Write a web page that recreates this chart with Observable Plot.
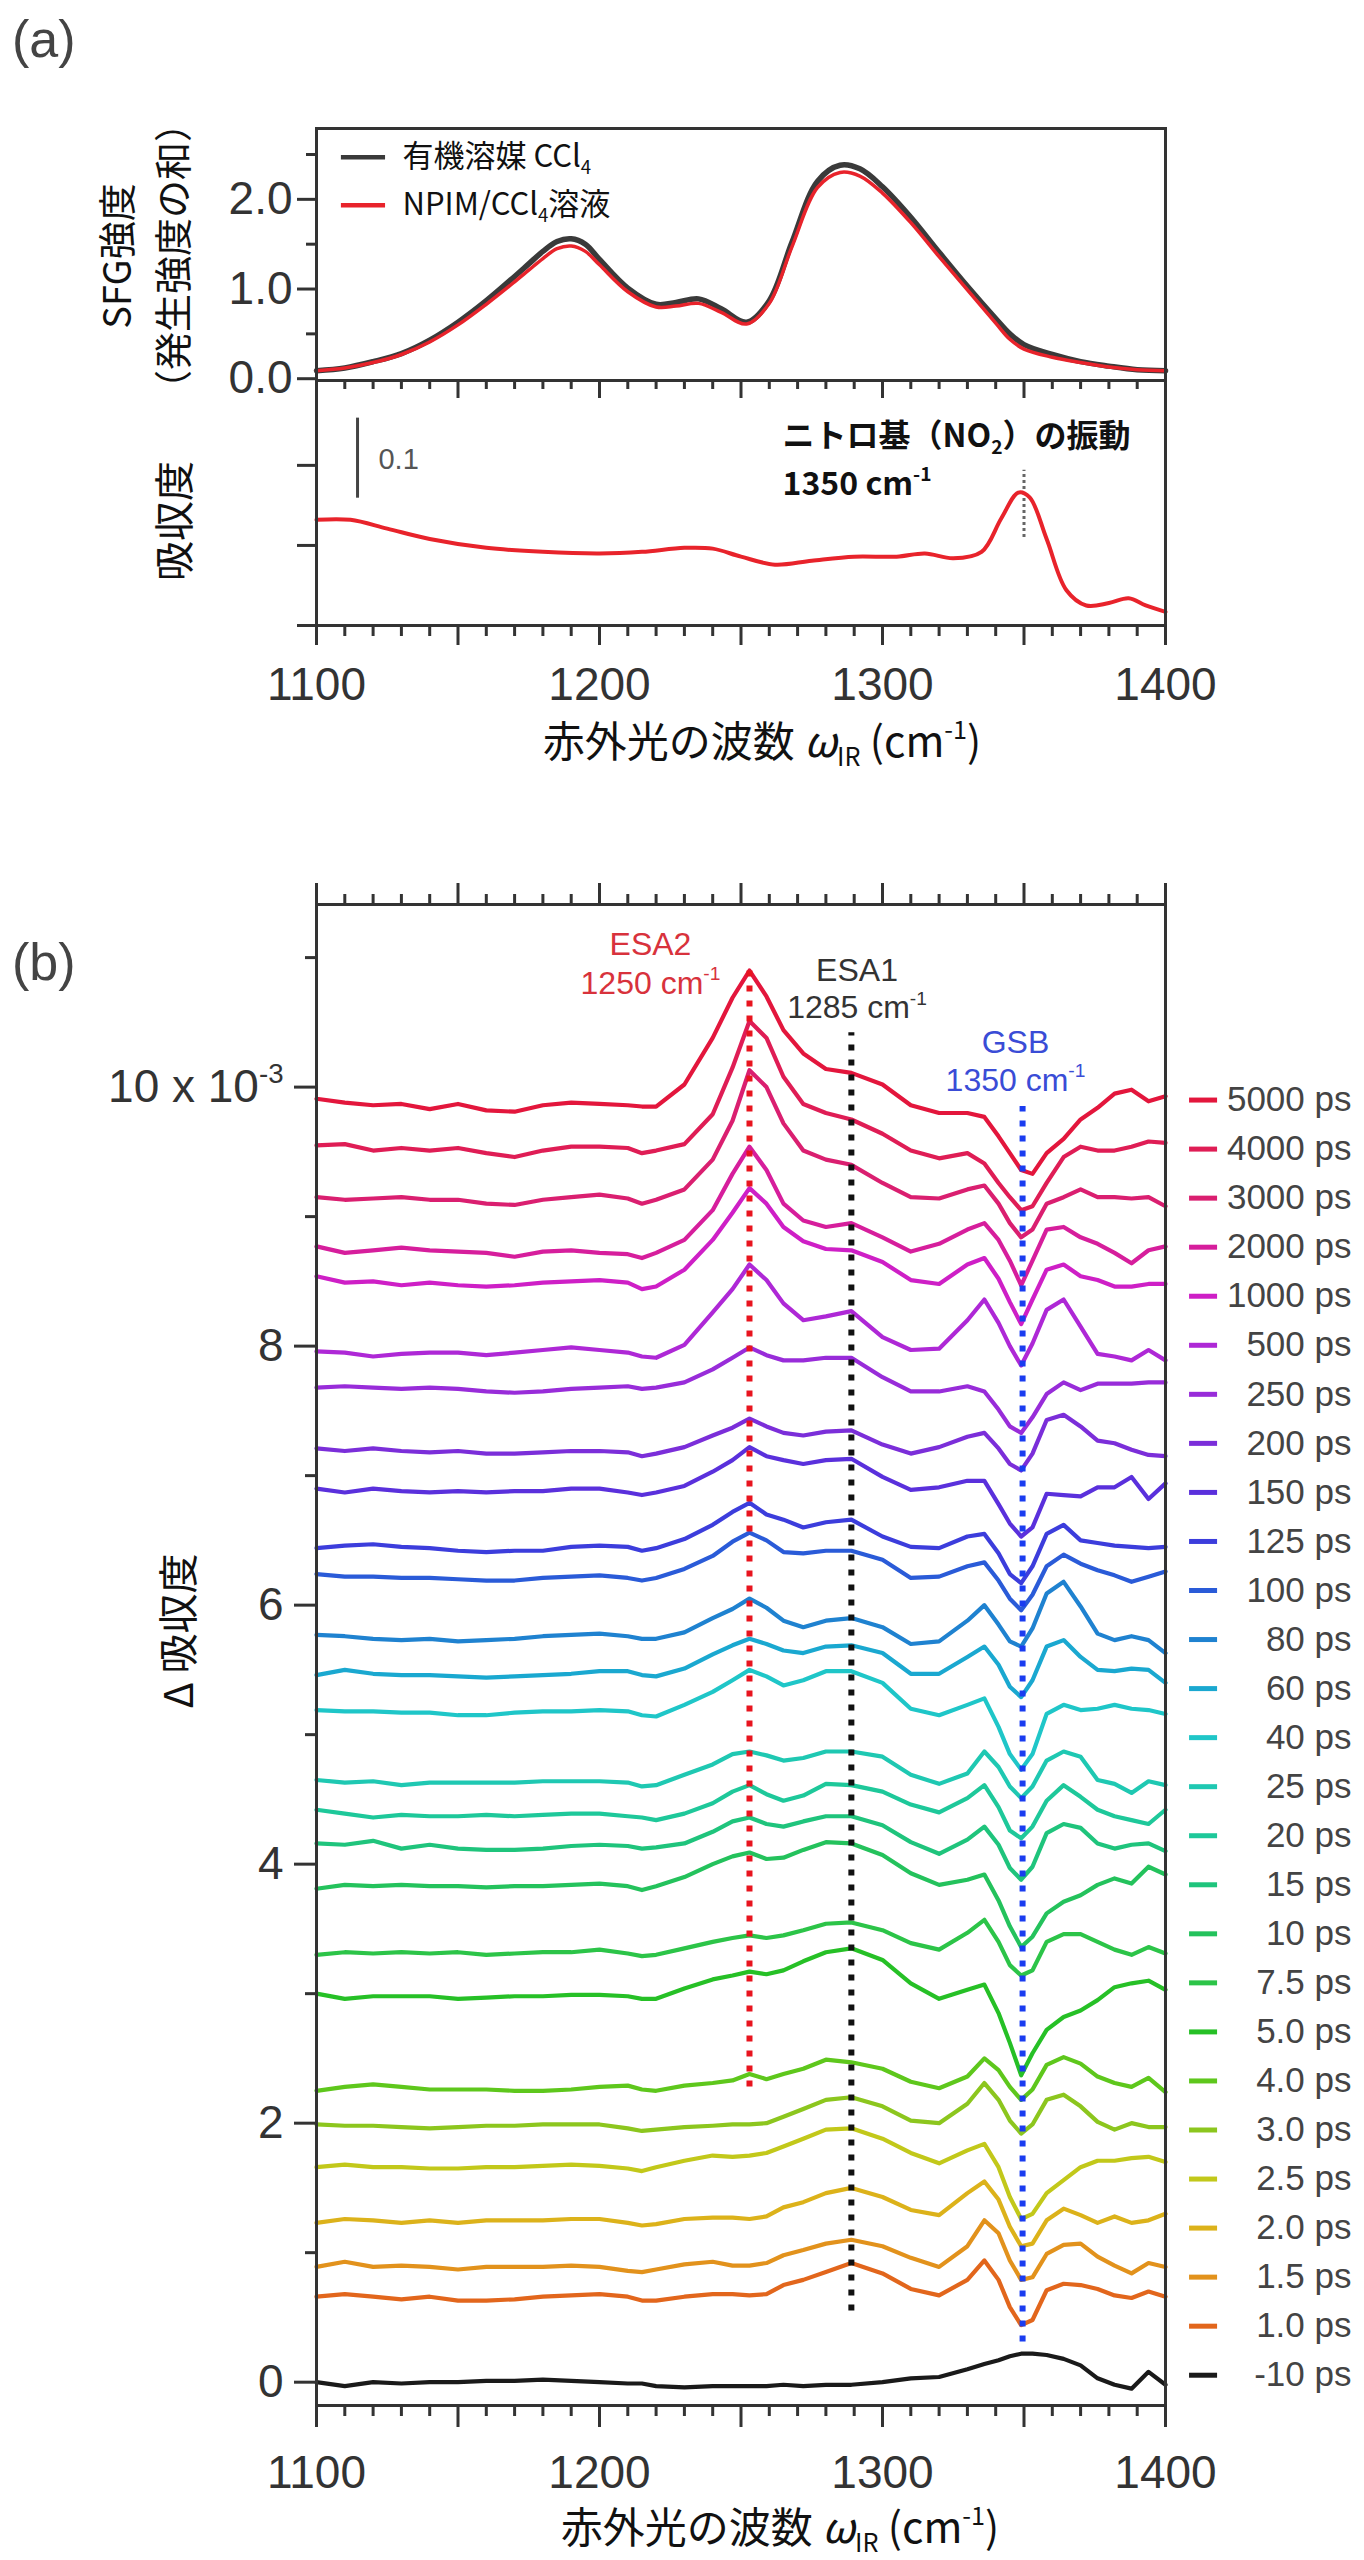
<!DOCTYPE html>
<html>
<head>
<meta charset="utf-8">
<script src="https://cdn.jsdelivr.net/npm/d3@7"></script>
<script src="https://cdn.jsdelivr.net/npm/@observablehq/plot@0.6"></script>
<style>
  body { margin: 0; background: #fff; }
  #root { position: relative; width: 1364px; height: 2560px; overflow: hidden; background: #fff; }
  #root svg { position: absolute; left: 0; overflow: visible; }
</style>
</head>
<body>
<div id="root"></div>
<script>
// ---------------- Panel (a): SFG intensity ----------------
const sfgX = [1100,1110,1120,1130,1140,1150,1160,1170,1175,1180,1185,1190,1195,1200,1210,1220,1227,1235,1243,1252,1260,1268,1277,1285,1292,1300,1310,1320,1330,1340,1345,1350,1360,1370,1380,1390,1400];
const sfgSolvent = [0.09,0.12,0.19,0.28,0.43,0.63,0.87,1.14,1.28,1.42,1.53,1.56,1.50,1.33,1.01,0.83,0.85,0.89,0.78,0.63,0.87,1.52,2.20,2.38,2.34,2.14,1.80,1.41,1.03,0.67,0.50,0.38,0.27,0.19,0.14,0.10,0.09];
const sfgNPIM    = [0.09,0.12,0.18,0.27,0.41,0.60,0.83,1.08,1.21,1.34,1.45,1.48,1.42,1.27,0.97,0.80,0.81,0.84,0.74,0.61,0.84,1.47,2.13,2.30,2.26,2.07,1.74,1.36,0.99,0.62,0.44,0.33,0.24,0.18,0.13,0.10,0.09];
const legendALabels = ["有機溶媒 CCl_{4}", "NPIM/CCl_{4}溶液"];
const legendAColors = ["#3a3a3a", "#e8232b"];

// ---------------- Panel (a): absorbance ----------------
const absX = [1100,1112,1125,1140,1160,1180,1200,1215,1230,1240,1250,1262,1275,1290,1305,1315,1325,1335,1342,1348,1352,1358,1365,1372,1380,1387,1393,1400];
const absY = [0.132,0.132,0.121,0.108,0.097,0.092,0.090,0.092,0.097,0.096,0.086,0.076,0.081,0.086,0.086,0.090,0.084,0.092,0.134,0.166,0.160,0.108,0.044,0.025,0.028,0.034,0.025,0.017];
const absPeak = 1350;
const absPeakRange = [0.110, 0.194];
const scaleBar = 0.1;
const absNotes = ["ニトロ基（NO_{2}）の振動", "1350 cm^{-1}"];

// ---------------- Panel (b): transient spectra (x 10^-3) ----------------
const specX = [1100,1110,1120,1130,1140,1150,1160,1170,1180,1190,1200,1210,1215,1220,1230,1240,1247,1253,1259,1265,1272,1280,1289,1300,1310,1320,1330,1336,1341,1345,1349,1353,1358,1364,1370,1376,1382,1388,1394,1400];
const d5000 = [9.91,9.88,9.86,9.87,9.83,9.87,9.82,9.81,9.86,9.88,9.87,9.86,9.85,9.85,10.02,10.38,10.69,10.90,10.70,10.44,10.26,10.14,10.11,10.02,9.86,9.80,9.80,9.77,9.62,9.49,9.36,9.33,9.49,9.60,9.75,9.84,9.95,9.98,9.89,9.93];
const d4000 = [9.55,9.56,9.51,9.53,9.51,9.53,9.49,9.46,9.51,9.54,9.54,9.53,9.49,9.51,9.56,9.79,10.15,10.51,10.38,10.08,9.87,9.80,9.75,9.64,9.51,9.45,9.49,9.41,9.26,9.15,9.05,9.08,9.26,9.46,9.54,9.51,9.51,9.54,9.58,9.57];
const d3000 = [9.15,9.13,9.14,9.15,9.13,9.13,9.10,9.09,9.13,9.15,9.17,9.14,9.10,9.13,9.21,9.44,9.74,10.13,10.00,9.72,9.51,9.44,9.40,9.26,9.15,9.14,9.21,9.24,9.10,8.95,8.84,8.90,9.10,9.15,9.21,9.15,9.15,9.14,9.15,9.08];
const d2000 = [8.77,8.72,8.74,8.76,8.74,8.73,8.72,8.69,8.73,8.74,8.72,8.71,8.68,8.72,8.82,9.05,9.33,9.54,9.36,9.10,8.97,8.92,8.95,8.84,8.73,8.79,8.90,8.95,8.82,8.66,8.47,8.66,8.90,8.92,8.84,8.79,8.72,8.64,8.74,8.77];
const d1000 = [8.54,8.49,8.50,8.47,8.49,8.47,8.46,8.47,8.49,8.50,8.51,8.49,8.44,8.46,8.59,8.82,9.03,9.22,9.10,8.92,8.81,8.75,8.74,8.65,8.51,8.48,8.63,8.68,8.52,8.34,8.17,8.36,8.59,8.63,8.54,8.51,8.46,8.46,8.48,8.48];
const d500  = [7.96,7.95,7.92,7.94,7.95,7.95,7.93,7.95,7.97,7.99,7.97,7.95,7.92,7.91,8.01,8.26,8.44,8.63,8.51,8.33,8.20,8.23,8.27,8.07,7.97,7.98,8.20,8.36,8.18,8.00,7.85,8.02,8.28,8.36,8.15,7.94,7.92,7.89,7.97,7.89];
const d250  = [7.68,7.69,7.68,7.67,7.68,7.67,7.65,7.64,7.65,7.67,7.68,7.69,7.67,7.68,7.72,7.82,7.91,7.99,7.93,7.89,7.89,7.91,7.91,7.76,7.65,7.65,7.69,7.65,7.51,7.38,7.33,7.45,7.63,7.72,7.66,7.71,7.71,7.71,7.72,7.72];
const d200  = [7.21,7.19,7.21,7.19,7.18,7.19,7.17,7.17,7.18,7.19,7.19,7.18,7.15,7.17,7.22,7.31,7.37,7.44,7.38,7.33,7.31,7.34,7.35,7.24,7.17,7.22,7.30,7.33,7.21,7.09,7.04,7.17,7.43,7.47,7.38,7.27,7.25,7.20,7.16,7.15];
const d150  = [6.90,6.87,6.90,6.88,6.87,6.88,6.87,6.88,6.88,6.90,6.90,6.87,6.85,6.87,6.92,7.03,7.12,7.22,7.15,7.12,7.09,7.12,7.13,6.99,6.89,6.91,6.96,6.96,6.78,6.63,6.53,6.60,6.86,6.85,6.84,6.91,6.91,6.99,6.82,6.94];
const d125  = [6.44,6.46,6.47,6.45,6.44,6.42,6.41,6.42,6.42,6.45,6.46,6.45,6.42,6.44,6.51,6.62,6.72,6.79,6.70,6.66,6.60,6.64,6.66,6.53,6.45,6.44,6.53,6.55,6.40,6.24,6.17,6.30,6.55,6.62,6.50,6.48,6.46,6.45,6.44,6.45];
const d100  = [6.24,6.22,6.22,6.21,6.21,6.20,6.19,6.19,6.21,6.22,6.23,6.21,6.19,6.21,6.28,6.38,6.49,6.56,6.50,6.41,6.40,6.42,6.42,6.35,6.21,6.22,6.30,6.33,6.19,6.05,5.96,6.08,6.30,6.39,6.32,6.27,6.23,6.18,6.22,6.26];
const d80   = [5.77,5.76,5.74,5.73,5.74,5.72,5.73,5.74,5.76,5.77,5.78,5.76,5.74,5.74,5.79,5.90,5.97,6.05,5.98,5.88,5.83,5.88,5.90,5.83,5.70,5.72,5.88,6.00,5.85,5.72,5.68,5.82,6.09,6.18,5.99,5.78,5.73,5.76,5.73,5.63];
const d60   = [5.46,5.50,5.47,5.46,5.46,5.45,5.44,5.45,5.46,5.47,5.49,5.49,5.46,5.45,5.51,5.62,5.69,5.74,5.70,5.65,5.63,5.68,5.69,5.63,5.47,5.47,5.60,5.68,5.54,5.37,5.29,5.42,5.68,5.73,5.60,5.50,5.49,5.51,5.50,5.40];
const d40   = [5.19,5.18,5.18,5.17,5.17,5.15,5.15,5.17,5.18,5.18,5.19,5.18,5.15,5.14,5.23,5.33,5.42,5.50,5.45,5.38,5.42,5.49,5.49,5.40,5.20,5.15,5.23,5.28,5.06,4.85,4.73,4.85,5.16,5.23,5.19,5.20,5.23,5.20,5.19,5.16];
const d25   = [4.65,4.63,4.64,4.61,4.63,4.63,4.63,4.63,4.64,4.64,4.64,4.63,4.60,4.61,4.69,4.77,4.85,4.87,4.84,4.80,4.82,4.87,4.87,4.83,4.69,4.62,4.70,4.87,4.75,4.60,4.51,4.60,4.80,4.87,4.83,4.65,4.62,4.55,4.64,4.61];
const d20   = [4.42,4.39,4.36,4.38,4.37,4.37,4.38,4.37,4.38,4.39,4.39,4.37,4.36,4.34,4.39,4.47,4.56,4.61,4.54,4.49,4.53,4.62,4.61,4.56,4.46,4.40,4.51,4.61,4.44,4.26,4.20,4.29,4.49,4.61,4.52,4.42,4.37,4.34,4.31,4.42];
const d15   = [4.16,4.15,4.18,4.12,4.15,4.12,4.11,4.11,4.12,4.14,4.15,4.14,4.12,4.13,4.16,4.25,4.33,4.36,4.31,4.29,4.33,4.37,4.37,4.30,4.17,4.08,4.19,4.29,4.15,3.97,3.88,3.98,4.24,4.31,4.28,4.16,4.12,4.15,4.16,4.10];
const d10   = [3.81,3.84,3.83,3.84,3.83,3.83,3.82,3.83,3.83,3.84,3.85,3.83,3.80,3.83,3.90,4.00,4.06,4.09,4.04,4.05,4.11,4.17,4.16,4.07,3.93,3.84,3.88,3.92,3.72,3.52,3.36,3.44,3.62,3.71,3.76,3.84,3.89,3.85,3.98,3.92];
const d7_5  = [3.30,3.32,3.31,3.32,3.31,3.32,3.30,3.31,3.32,3.32,3.34,3.31,3.29,3.30,3.35,3.40,3.43,3.45,3.43,3.45,3.49,3.54,3.55,3.49,3.39,3.34,3.47,3.57,3.40,3.22,3.14,3.18,3.40,3.46,3.46,3.40,3.34,3.30,3.36,3.31];
const d5_0  = [3.00,2.96,2.98,2.98,2.98,2.96,2.97,2.98,2.98,2.99,2.99,2.98,2.96,2.96,3.04,3.11,3.14,3.17,3.15,3.18,3.25,3.32,3.35,3.26,3.08,2.96,3.03,3.07,2.85,2.62,2.37,2.54,2.72,2.82,2.87,2.95,3.05,3.08,3.10,3.03];
const d4_0  = [2.25,2.28,2.30,2.28,2.26,2.26,2.26,2.25,2.25,2.26,2.28,2.29,2.26,2.25,2.29,2.31,2.33,2.38,2.34,2.38,2.42,2.49,2.47,2.42,2.32,2.27,2.36,2.50,2.41,2.28,2.18,2.26,2.45,2.51,2.46,2.36,2.31,2.28,2.35,2.24];
const d3_0  = [1.99,1.98,1.98,1.97,1.96,1.97,1.98,1.98,1.99,1.99,1.99,1.96,1.94,1.95,1.97,1.98,1.99,1.99,2.00,2.05,2.11,2.18,2.20,2.13,2.02,2.00,2.15,2.31,2.18,2.02,1.92,1.99,2.18,2.22,2.13,2.01,1.95,2.00,1.97,1.97];
const d2_5  = [1.66,1.68,1.66,1.66,1.65,1.65,1.66,1.66,1.67,1.68,1.67,1.65,1.63,1.66,1.71,1.75,1.74,1.75,1.77,1.82,1.88,1.95,1.96,1.88,1.77,1.69,1.79,1.84,1.66,1.43,1.26,1.30,1.46,1.56,1.66,1.71,1.71,1.73,1.74,1.70];
const d2_0  = [1.23,1.26,1.25,1.23,1.25,1.23,1.25,1.25,1.25,1.26,1.26,1.23,1.21,1.22,1.26,1.27,1.27,1.26,1.28,1.35,1.39,1.46,1.50,1.43,1.33,1.29,1.46,1.55,1.41,1.20,1.05,1.07,1.25,1.34,1.29,1.23,1.28,1.23,1.25,1.30];
const d1_5  = [0.89,0.93,0.89,0.90,0.89,0.87,0.89,0.89,0.89,0.90,0.89,0.86,0.85,0.87,0.91,0.93,0.90,0.90,0.92,0.98,1.02,1.07,1.10,1.05,0.96,0.89,1.05,1.25,1.15,0.94,0.79,0.81,0.99,1.06,1.07,0.97,0.90,0.84,0.92,0.89];
const d1_0  = [0.66,0.68,0.66,0.64,0.66,0.63,0.63,0.64,0.66,0.67,0.68,0.66,0.63,0.63,0.66,0.68,0.68,0.67,0.68,0.75,0.79,0.85,0.92,0.84,0.72,0.67,0.79,0.94,0.79,0.58,0.44,0.48,0.71,0.76,0.75,0.72,0.67,0.65,0.70,0.66];
const dNeg10 = [0.00,-0.03,0.00,-0.01,0.00,0.00,0.01,0.01,0.02,0.01,0.00,-0.01,-0.01,-0.03,-0.04,-0.03,-0.03,-0.03,-0.03,-0.02,-0.03,-0.02,-0.02,0.00,0.03,0.04,0.10,0.14,0.17,0.20,0.22,0.22,0.21,0.18,0.13,0.03,-0.02,-0.05,0.08,-0.02];

const delays = ["5000 ps","4000 ps","3000 ps","2000 ps","1000 ps","500 ps","250 ps","200 ps","150 ps","125 ps","100 ps","80 ps","60 ps","40 ps","25 ps","20 ps","15 ps","10 ps","7.5 ps","5.0 ps","4.0 ps","3.0 ps","2.5 ps","2.0 ps","1.5 ps","1.0 ps","-10 ps"];
const delayColors = ["#e3163c","#df1d55","#da1f70","#d61e9c","#ce1fc6","#ae28d6","#982cd9","#7b2ed9","#5a30dc","#3c3ddc","#2a5bd8","#1f82d0","#1aa8d0","#1fc6c8","#1fc8b2","#1ec89a","#1fc47c","#24c25c","#2cc448","#26c026","#5ec71c","#8cc61e","#c2c81a","#dcb21a","#e2921c","#e2661c","#1a1a1a"];
const series = [d5000,d4000,d3000,d2000,d1000,d500,d250,d200,d150,d125,d100,d80,d60,d40,d25,d20,d15,d10,d7_5,d5_0,d4_0,d3_0,d2_5,d2_0,d1_5,d1_0,dNeg10];

// marker (dotted) lines and their labels
const markerX = [1253, 1289, 1349.5];
const markerTop = [10.95, 10.42, 9.85];
const markerBottom = [2.28, 0.55, 0.31];
const markerColors = ["#e8141e", "#111111", "#1a3cf0"];
const markerNames = ["ESA2", "ESA1", "GSB"];
const markerWave = ["1250 cm^{-1}", "1285 cm^{-1}", "1350 cm^{-1}"];
const markerLabelX = [1218, 1291, 1347];
const markerNameY = [11.10, 10.90, 10.34];
const markerWaveY = [10.80, 10.61, 10.05];
const markerLabelColors = ["#d8323c", "#333333", "#3a4cd6"];

const yMajorB = [0, 2, 4, 6, 8, 10];
const yMinorB = [1, 3, 5, 7, 9, 11];

// ---------------- helpers ----------------
const W = 1364;
const root = document.getElementById("root");
const FONT = "'Liberation Sans', Arial, Helvetica, sans-serif";
const CJK = "'Noto Sans CJK JP', 'Noto Sans', sans-serif";
const xMajor = d3.range(1100, 1401, 50);
const xMinor = d3.range(1100, 1401, 10).filter(d => d % 50 !== 0);
const baseStyle = {background: "transparent", overflow: "visible", fontFamily: FONT, fontSize: "46px", color: "#333"};
const blank = () => "";

function place(svg, top) {
  svg.style.position = "absolute";
  svg.style.left = "0px";
  svg.style.top = top + "px";
  root.appendChild(svg);
}

// ---------------- Plot 1: SFG ----------------
const solventRows = sfgX.map((x, i) => ({x, y: sfgSolvent[i]}));
const npimRows = sfgX.map((x, i) => ({x, y: sfgNPIM[i]}));
const legendARows = legendALabels.map((label, i) => ({label, color: legendAColors[i], y: 2.47 - 0.535 * i}));

const plotSFG = Plot.plot({
  width: W, height: 402,
  marginTop: 128, marginBottom: 22, marginLeft: 316, marginRight: 199,
  x: {domain: [1100, 1400], label: null},
  y: {domain: [-0.02, 2.79], label: null},
  style: baseStyle,
  marks: [
    Plot.line(solventRows, {x: "x", y: "y", stroke: "#3a3a3a", strokeWidth: 5.5, curve: "catmull-rom"}),
    Plot.line(npimRows, {x: "x", y: "y", stroke: "#e8232b", strokeWidth: 3.5, curve: "catmull-rom"}),
    Plot.ruleY(legendARows, {y: "y", x1: 1108.8, x2: 1124.4, stroke: d => d.color, strokeWidth: 4.5}),
    Plot.text(legendARows, {x: 1130.4, y: "y", text: "label", textAnchor: "start", fontFamily: CJK, fontSize: 31, fill: "#111"}),
    Plot.axisY([0, 1, 2], {tickSize: 19, tickPadding: 5, tickFormat: d3.format(".1f"), strokeWidth: 3, label: null}),
    Plot.axisY([0.5, 1.5, 2.5], {tickSize: 10, tickFormat: blank, strokeWidth: 3, label: null}),
    Plot.axisX(xMajor, {anchor: "bottom", tickSize: 18, tickFormat: blank, strokeWidth: 3, label: null}),
    Plot.axisX(xMinor, {anchor: "bottom", tickSize: 9, tickFormat: blank, strokeWidth: 3, label: null}),
    Plot.frame({stroke: "#333", strokeWidth: 3})
  ]
});
place(plotSFG, 0);

// ---------------- Plot 2: absorbance ----------------
const absRows = absX.map((x, i) => ({x, y: absY[i]}));
const plotAbs = Plot.plot({
  width: W, height: 438,
  marginTop: 18, marginBottom: 175, marginLeft: 316, marginRight: 199,
  x: {domain: [1100, 1400], label: null},
  y: {domain: [0, 0.306], label: null},
  style: baseStyle,
  marks: [
    Plot.ruleX([absPeak], {x: d => d, y1: absPeakRange[0], y2: absPeakRange[1], stroke: "#666", strokeWidth: 3, strokeDasharray: "3 3"}),
    Plot.line(absRows, {x: "x", y: "y", stroke: "#e8232b", strokeWidth: 4, curve: "catmull-rom"}),
    Plot.ruleX([1114.5], {x: d => d, y1: 0.159, y2: 0.159 + scaleBar, stroke: "#444", strokeWidth: 3}),
    Plot.text([String(scaleBar)], {x: 1121.9, y: 0.2075, text: d => d, textAnchor: "start", fontSize: 29, fill: "#555"}),
    Plot.text(absNotes, {x: 1264.7, y: (d, i) => 0.236 - 0.06 * i, text: d => d, textAnchor: "start", fontFamily: CJK, fontWeight: "bold", fontSize: 32, fill: "#111"}),
    Plot.axisY([0, 0.1, 0.2], {tickSize: 19, tickFormat: blank, strokeWidth: 3, label: null}),
    Plot.axisX(xMajor, {anchor: "bottom", tickSize: 20, tickPadding: 22, tickFormat: d => d % 100 === 0 ? String(d) : "", strokeWidth: 3, label: null}),
    Plot.axisX(xMinor, {anchor: "bottom", tickSize: 11, tickFormat: blank, strokeWidth: 3, label: null}),
    Plot.frame({stroke: "#333", strokeWidth: 3})
  ]
});
place(plotAbs, 362);

// ---------------- Plot 3: transient spectra ----------------
const specRows = series.flatMap((s, k) => specX.map((x, j) => ({x, y: s[j], delay: delays[k], color: delayColors[k]})));
const markerRows = markerX.map((x, i) => ({x, top: markerTop[i], bottom: markerBottom[i], color: markerColors[i]}));
const labelRows = markerX.flatMap((_, i) => [
  {x: markerLabelX[i], y: markerNameY[i], text: markerNames[i], color: markerLabelColors[i]},
  {x: markerLabelX[i], y: markerWaveY[i], text: markerWave[i], color: markerLabelColors[i]}
]);
const legendBRows = delays.map((label, i) => ({label, color: delayColors[i], y: 9.90 - 0.3787 * i}));

const plotB = Plot.plot({
  width: W, height: 1600,
  marginTop: 54, marginBottom: 45, marginLeft: 316, marginRight: 199,
  x: {domain: [1100, 1400], label: null},
  y: {domain: [-0.18, 11.41], label: null},
  style: baseStyle,
  marks: [
    Plot.line(specRows, {x: "x", y: "y", z: "delay", stroke: d => d.color, strokeWidth: 4.2, strokeLinejoin: "round"}),
    Plot.ruleX(markerRows, {x: "x", y1: "bottom", y2: "top", stroke: d => d.color, strokeWidth: 6, strokeDasharray: "6 9"}),
    Plot.text(labelRows, {x: "x", y: "y", text: "text", fill: d => d.color, fontSize: 32, textAnchor: "middle"}),
    Plot.ruleY(legendBRows, {y: "y", x1: 1408.5, x2: 1418.4, stroke: d => d.color, strokeWidth: 5}),
    Plot.text(legendBRows, {x: 1400, y: "y", dx: 186, text: "label", textAnchor: "end", fontSize: 35, fill: "#444"}),
    Plot.axisY(yMajorB, {tickSize: 22, tickPadding: 11, tickFormat: d => d === 10 ? "10 x 10^{-3}" : String(d), strokeWidth: 3, label: null}),
    Plot.axisY(yMinorB, {tickSize: 11, tickFormat: blank, strokeWidth: 3, label: null}),
    Plot.axisX(xMajor, {anchor: "bottom", tickSize: 22, tickPadding: 28, tickFormat: d => d % 100 === 0 ? String(d) : "", strokeWidth: 3, label: null}),
    Plot.axisX(xMinor, {anchor: "bottom", tickSize: 11, tickFormat: blank, strokeWidth: 3, label: null}),
    Plot.axisX(xMajor, {anchor: "top", tickSize: 22, tickFormat: blank, strokeWidth: 3, label: null}),
    Plot.axisX(xMinor, {anchor: "top", tickSize: 11, tickFormat: blank, strokeWidth: 3, label: null}),
    Plot.frame({stroke: "#333", strokeWidth: 3})
  ]
});
place(plotB, 850);

// ---------------- overlay titles ----------------
const ov = d3.create("svg").attr("width", W).attr("height", 2560)
  .style("position", "absolute").style("left", "0px").style("top", "0px");
function ovText(segs, x, y, o) {
  const t = ov.append("text")
    .attr("font-family", o.font).attr("font-size", o.size)
    .attr("fill", o.fill || "#111").attr("text-anchor", o.anchor || "start");
  if (o.rotate) {
    t.attr("transform", `translate(${x},${y}) rotate(${o.rotate})`).attr("dominant-baseline", "central");
  } else {
    t.attr("x", x).attr("y", y);
  }
  let cur = 0;
  for (const s of segs) {
    const ts = t.append("tspan").text(s.t);
    const target = s.sup ? -0.42 * o.size : s.sub ? 0.22 * o.size : 0;
    if (target !== cur) ts.attr("dy", target - cur);
    cur = target;
    if (s.sup || s.sub) ts.attr("font-size", 0.6 * o.size);
    if (s.it) ts.attr("font-style", "italic");
  }
}
const xTitle = [{t: "赤外光の波数 "}, {t: "ω", it: true}, {t: "IR", sub: true}, {t: " (cm"}, {t: "-1", sup: true}, {t: ")"}];
ovText([{t: "(a)"}], 12, 57, {font: FONT, size: 52, fill: "#444"});
ovText([{t: "(b)"}], 12, 980, {font: FONT, size: 52, fill: "#444"});
ovText([{t: "SFG強度"}], 114, 256, {font: CJK, size: 38, rotate: -90, anchor: "middle"});
ovText([{t: "（発生強度の和）"}], 170, 256, {font: CJK, size: 38, rotate: -90, anchor: "middle"});
ovText([{t: "吸収度"}], 172, 521, {font: CJK, size: 40, rotate: -90, anchor: "middle"});
ovText(xTitle, 762, 757, {font: CJK, size: 42, anchor: "middle"});
ovText([{t: "Δ 吸収度"}], 176, 1631, {font: CJK, size: 40, rotate: -90, anchor: "middle"});
ovText(xTitle, 780, 2543, {font: CJK, size: 42, anchor: "middle"});
root.appendChild(ov.node());

// ---------------- rich text (sub/superscripts) inside Plot texts ----------------
function richify(el) {
  const NS = "http://www.w3.org/2000/svg";
  el.querySelectorAll("text").forEach(t => {
    const s = t.textContent;
    if (t.children.length || !/[\^_]\{/.test(s)) return;
    const fs = parseFloat(getComputedStyle(t).fontSize) || 16;
    while (t.firstChild) t.removeChild(t.firstChild);
    const re = /([\^_])\{([^}]*)\}/g;
    let last = 0, m, cur = 0;
    const add = (txt, kind) => {
      const ts = document.createElementNS(NS, "tspan");
      ts.textContent = txt;
      const target = kind === "^" ? -0.42 * fs : kind === "_" ? 0.22 * fs : 0;
      if (target !== cur) ts.setAttribute("dy", (target - cur).toFixed(2));
      cur = target;
      if (kind) ts.setAttribute("font-size", (0.6 * fs).toFixed(1));
      t.appendChild(ts);
    };
    while ((m = re.exec(s))) {
      if (m.index > last) add(s.slice(last, m.index), "");
      add(m[2], m[1]);
      last = re.lastIndex;
    }
    if (last < s.length) add(s.slice(last), "");
  });
}
richify(root);
</script>
</body>
</html>
